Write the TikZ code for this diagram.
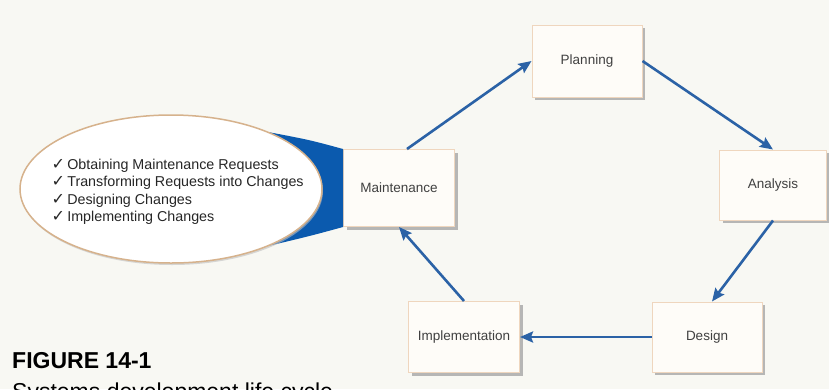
\documentclass[tikz,border=0pt]{standalone}
\usepackage{fontspec}
\setmainfont{Liberation Sans}
\newfontfamily\checkfont{DejaVu Sans}
\usetikzlibrary{arrows.meta,shadows,shapes.geometric}
\definecolor{bgcol}{HTML}{F8F8F3}
\definecolor{boxfill}{HTML}{FEFCF8}
\definecolor{boxline}{HTML}{EFD6BE}
\definecolor{flowblue}{HTML}{2B62A6}
\definecolor{wedgeblue}{HTML}{0B5AAE}
\definecolor{bubbleline}{HTML}{D6B28C}
\newcommand{\chk}{{\checkfont\fontsize{16}{17.5}\selectfont ✓}\,}

\begin{document}
\begin{tikzpicture}[x=1pt,y=-1pt]
\tikzstyle{stage} = [draw=boxline,fill=boxfill,line width=1pt,minimum width=110pt,minimum height=72pt,text=black!75,font=\fontsize{13.5}{15}\selectfont,drop shadow={shadow xshift=3pt,shadow yshift=-3pt,fill=black!35,opacity=.8}];
\tikzstyle{flow} = [-{Stealth[length=13pt,width=11pt,inset=2pt]},draw=flowblue,line width=2.6pt];
\tikzstyle{bubble} = [ellipse,draw=bubbleline,line width=1.5pt,fill=white,minimum width=302pt,minimum height=148pt,drop shadow={shadow xshift=1pt,shadow yshift=-2pt,fill=black!25,opacity=.6}];

\fill [bgcol] (0,0) rectangle (829,389);
\useasboundingbox (0,0) rectangle (829,389);

\node [stage] (planning) at (587,61) {Planning};
\node [stage,minimum width=107pt,minimum height=70pt] (analysis) at (773,185) {Analysis};
\node [stage,minimum height=70pt] (design) at (707,337) {Design};
\node [stage,minimum width=111pt,minimum height=71pt] (impl) at (464,337) {Implementation};
\node [stage,minimum width=111pt,minimum height=77pt] (maint) at (399,188) {Maintenance};

% blue wedge behind the bubble
\fill [wedgeblue] (268,132) .. controls (310,140) .. (maint.north west) -- (maint.south west) .. controls (310,236) .. (268,246) -- cycle;
\node [bubble] (bubble) at (171,189) {};
\node [anchor=west,align=left,text=black!85,font=\fontsize{14.3}{17.5}\selectfont] (list) at (48,192)
  {\chk Obtaining Maintenance Requests\\ \chk Transforming Requests into Changes\\ \chk Designing Changes\\ \chk Implementing Changes};

\draw [flow] ([xshift=8pt]maint.north) -- (planning.west);
\draw [flow] (planning.east) -- (analysis.north);
\draw [flow] (analysis.south) -- ([xshift=5pt]design.north);
\draw [flow] (design.west) -- (impl.east);
\draw [flow] (impl.north) -- (maint.south);

\node [anchor=base west,inner sep=0pt,font=\fontsize{23}{28}\selectfont\bfseries] (fignum) at (12,368) {FIGURE 14-1};
\node [anchor=base west,inner sep=0pt,font=\fontsize{23}{28}\selectfont] (figtitle) at (12,399.5) {Systems development life cycle};
\end{tikzpicture}
\end{document}
